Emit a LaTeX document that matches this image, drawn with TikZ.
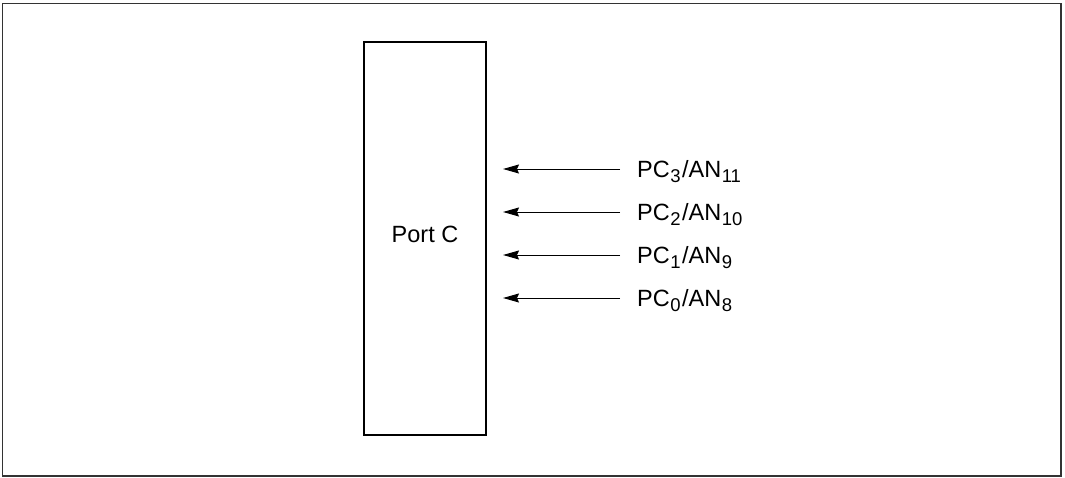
\documentclass[tikz,border=0pt]{standalone}
\usepackage{fontspec}
\setmainfont{Liberation Sans}
\usetikzlibrary{arrows.meta,positioning}
\definecolor{portInk}{HTML}{000000}
\definecolor{portFrame}{HTML}{333333}
\newcommand\pinsub[1]{\kern0.5pt\raisebox{-5.5pt}{\fontsize{18.5}{18.5}\selectfont #1}\kern1.5pt}
\tikzset{
  every picture/.style={font=\fontsize{23.5}{26}\selectfont, text=portInk},
  port frame/.style={draw=portFrame, line width=1.5pt},
  port box/.style={draw=portInk, line width=1.5pt, fill=white,
    minimum width=122pt, minimum height=393pt, inner sep=0pt},
  pin label/.style={anchor=west, inner sep=0pt, text height=22pt, text depth=6pt},
  pin arrow/.style={-{Stealth[length=16pt,width=9pt,inset=2pt]},
    draw=portInk, line width=1pt}
}
\begin{document}
\begin{tikzpicture}[x=1pt,y=-1pt]
  \useasboundingbox (0,0) rectangle (1065,477);
  \draw[port frame] (2.5,3.5) rectangle (1061,476);
  \node[port box] (port) at (425,238.5) {};
  \node (portlbl) at (425,234) {Port C};
  \coordinate (tip) at (503,0);
  \foreach \n/\an/\y in {3/11/169,2/10/212,1/9/255,0/8/298}{
    \node[pin label] (pc\n) at (637,\y) {PC\pinsub{\n}/AN\pinsub{\an}};
    \draw[pin arrow] ([xshift=-17pt]pc\n.west) -- (pc\n.west -| tip);
  }
\end{tikzpicture}
\end{document}
